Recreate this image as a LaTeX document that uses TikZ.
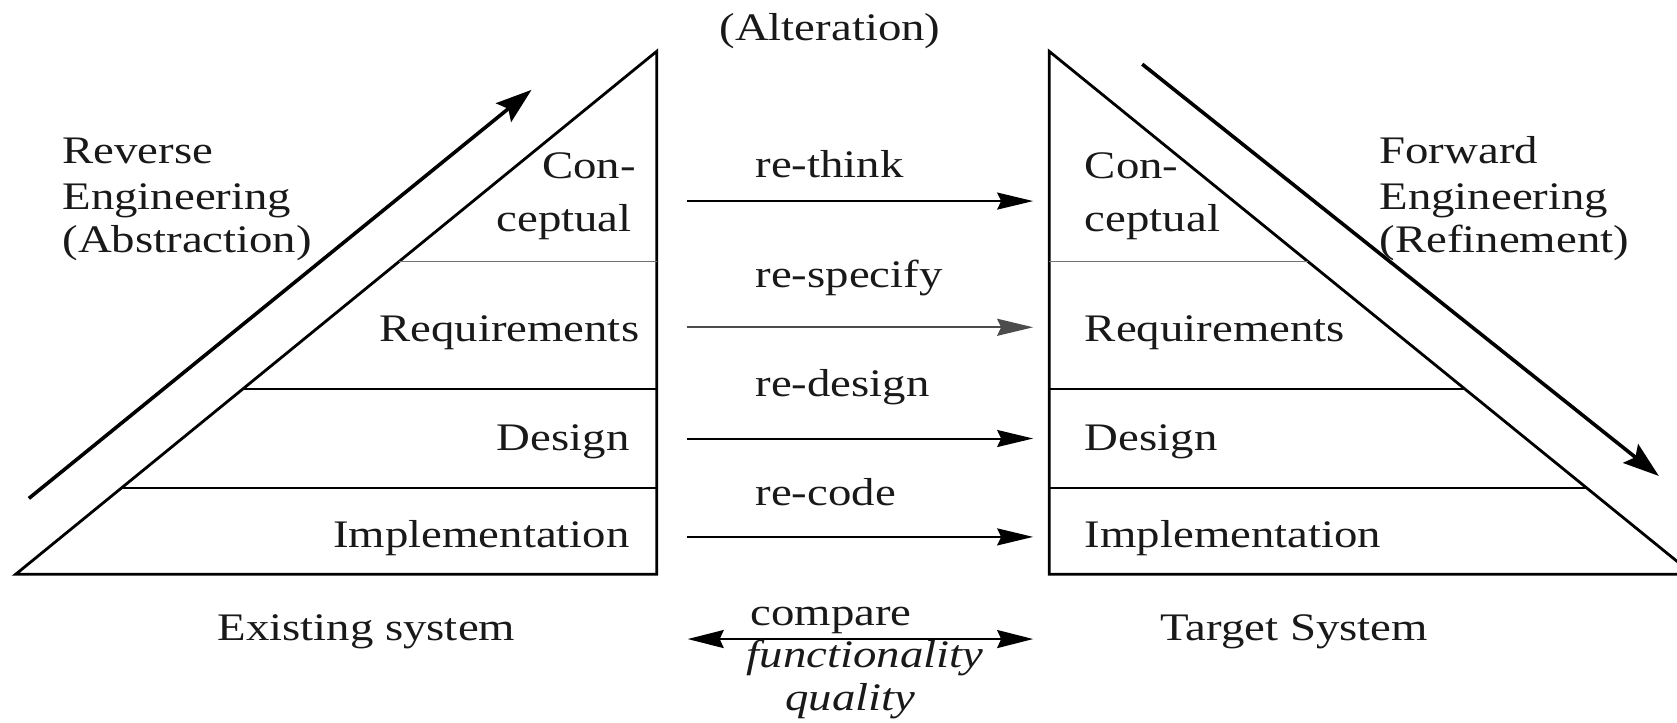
\documentclass[tikz,border=0pt]{standalone}
\usepackage{fontspec}
\setmainfont[FakeStretch=1.2]{Liberation Serif}
\usetikzlibrary{arrows.meta,calc}
\begin{document}
\begin{tikzpicture}[x=0.53476pt,y=-0.53476pt,
  txt/.style={font=\rmfamily\fontsize{19.5pt}{22pt}\selectfont, inner sep=0pt, text=black!90},
  itxt/.style={txt, font=\rmfamily\fontsize{19.5pt}{22pt}\selectfont\itshape},
  tri/.style={line width=1.4pt, line join=miter},
  layer/.style={line width=1.1pt},
  thinlayer/.style={line width=0.8pt, black!55},
  flow/.style={line width=1pt, -{Stealth[length=18pt,width=8.5pt,inset=2pt]}},
  both/.style={line width=1.1pt, {Stealth[length=18pt,width=9pt,inset=2pt]}-{Stealth[length=18pt,width=9pt,inset=2pt]}},
  big/.style={line width=1.8pt, -{Stealth[length=18pt,width=12pt,inset=3pt]}}]
\useasboundingbox (0,0) rectangle (1568,676);
\clip (0,0) rectangle (1568,676);

% left triangle
\coordinate (L1) at (14.6,537);
\coordinate (L2) at (614,48);
\coordinate (L3) at (614,537);
\draw[tri] (L1) -- (L2) -- (L3) -- cycle;
\coordinate (Lc) at ($(L1)!0.5982!(L2)$);
\coordinate (Lr) at ($(L1)!0.3538!(L2)$);
\coordinate (Ld) at ($(L1)!0.1656!(L2)$);
\draw[thinlayer] (Lc) -- (Lc -| L3);
\draw[layer] (Lr) -- (Lr -| L3);
\draw[layer] (Ld) -- (Ld -| L3);

% right triangle
\coordinate (R1) at (981,48);
\coordinate (R2) at (981,537);
\coordinate (R3) at (1583,537);
\draw[tri] (R3) -- (R1) -- (R2) -- cycle;
\coordinate (Rc) at ($(R3)!0.5982!(R1)$);
\coordinate (Rr) at ($(R3)!0.3538!(R1)$);
\coordinate (Rd) at ($(R3)!0.1656!(R1)$);
\draw[thinlayer] (Rc) -- (Rc -| R1);
\draw[layer] (Rr) -- (Rr -| R1);
\draw[layer] (Rd) -- (Rd -| R1);

% engineering arrows
\coordinate (revs) at (27,466);
\coordinate (reve) at (497,84);
\draw[big] (revs) -- (reve);
\coordinate (fwds) at (1068,60);
\coordinate (fwde) at (1551,445);
\draw[big] (fwds) -- (fwde);

% left labels
\node[txt, anchor=base west] (rev1) at (58,153) {Reverse};
\node[txt, anchor=base west] (rev2) at (58,196) {Engineering};
\node[txt, anchor=base west] (rev3) at (58,236) {(Abstraction)};
\node[txt, anchor=base east] (lcon1) at (595,167) {Con-};
\node[txt, anchor=base east] (lcon2) at (591,216) {ceptual};
\node[txt, anchor=base east] (lreq) at (598,319) {Requirements};
\node[txt, anchor=base east] (ldes) at (589,421) {Design};
\node[txt, anchor=base east] (limp) at (589,512) {Implementation};
\node[txt, anchor=base] (exist) at (342.5,598.5) {Existing system};

% right labels
\node[txt, anchor=base west] (fwd1) at (1289.5,153) {Forward};
\node[txt, anchor=base west] (fwd2) at (1289.5,196) {Engineering};
\node[txt, anchor=base west] (fwd3) at (1289.5,236) {(Refinement)};
\node[txt, anchor=base west] (rcon1) at (1014,167) {Con-};
\node[txt, anchor=base west] (rcon2) at (1014,216) {ceptual};
\node[txt, anchor=base west] (rreq) at (1014,319) {Requirements};
\node[txt, anchor=base west] (rdes) at (1014,421) {Design};
\node[txt, anchor=base west] (rimp) at (1014,512) {Implementation};
\node[txt, anchor=base] (target) at (1210,599) {Target System};

% middle
\node[txt, anchor=base] (alt) at (776,38) {(Alteration)};
\node[txt, anchor=base west] (think) at (706,166) {re-think};
\node[txt, anchor=base west] (spec) at (706,269) {re-specify};
\node[txt, anchor=base west] (desn) at (706,371) {re-design};
\node[txt, anchor=base west] (code) at (706,473) {re-code};
\coordinate (a1s) at (642,188); \coordinate (a1e) at (966,188);
\coordinate (a2s) at (642,306); \coordinate (a2e) at (966,306);
\coordinate (a3s) at (642,410); \coordinate (a3e) at (966,410);
\coordinate (a4s) at (642,502); \coordinate (a4e) at (966,502);
\draw[flow] (a1s) -- (a1e);
\draw[flow, black!70] (a2s) -- (a2e);
\draw[flow] (a3s) -- (a3e);
\draw[flow] (a4s) -- (a4e);

\node[txt, anchor=base] (cmp) at (777,584.6) {compare};
\coordinate (cs) at (643,597.5); \coordinate (ce) at (966,597.5);
\draw[both] (cs) -- (ce);
\node[itxt, anchor=base] (func) at (809,624) {functionality};
\node[itxt, anchor=base] (qual) at (795,664.5) {quality};
\end{tikzpicture}
\end{document}
